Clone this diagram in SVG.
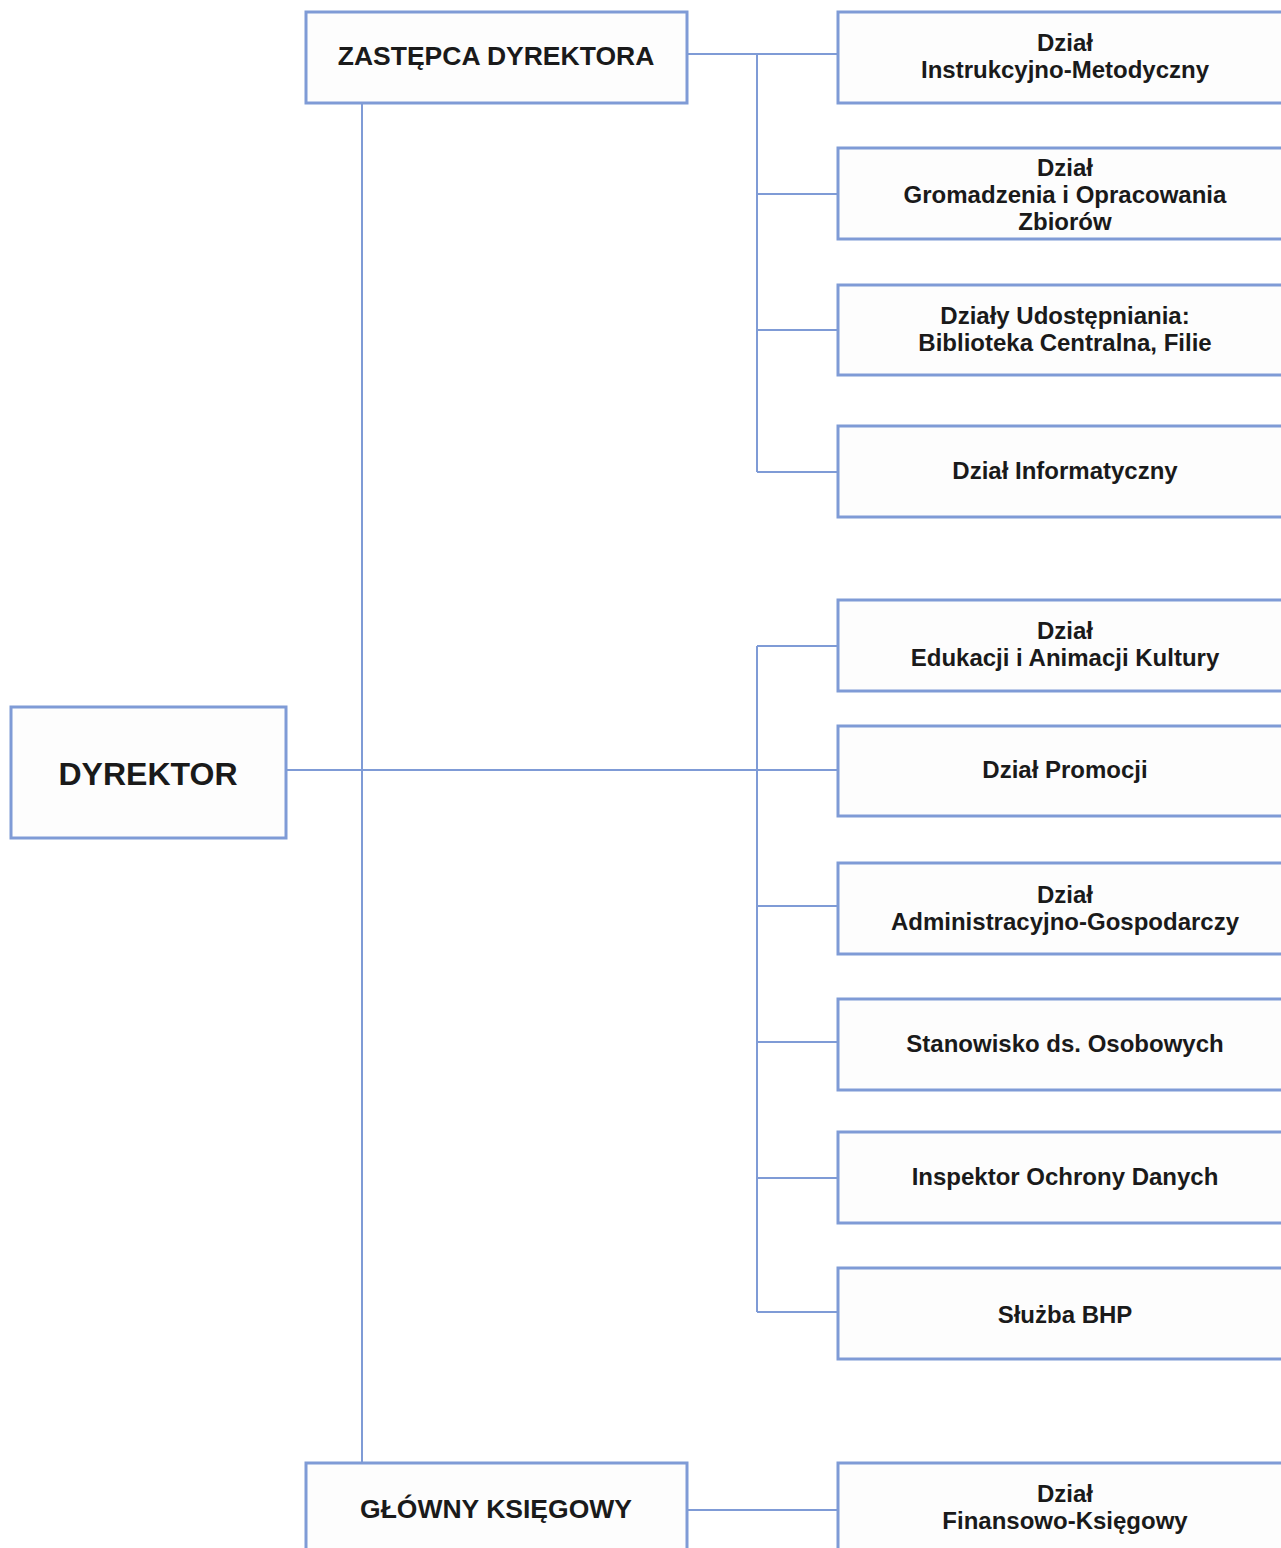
<svg xmlns="http://www.w3.org/2000/svg" width="1281" height="1548" viewBox="0 0 1281 1548">
<style>
.box{fill:#fdfdfd;stroke:#7f9bd6;stroke-width:3}
.ln{stroke:#7f9bd6;stroke-width:2;fill:none}
text{font-family:"Liberation Sans",Arial,sans-serif;font-weight:bold;fill:#1a1a1a;text-anchor:middle}
.t{font-size:24px}
.big{font-size:32px}
.mid{font-size:26.5px}
</style>
<rect width="1281" height="1548" fill="#ffffff"/>
<g id="connectors">
<path class="ln" d="M362 103V1463"/>
<path class="ln" d="M286 770H838"/>
<path class="ln" d="M687 54H838M757 54V472M757 194H838M757 330H838M757 472H838"/>
<path class="ln" d="M757 646V1312M757 646H838M757 906H838M757 1042H838M757 1178H838M757 1312H838"/>
<path class="ln" d="M687 1510H838"/>
</g>
<g id="dyrektor"><rect class="box" x="11" y="707" width="275" height="131"/><text class="big" x="148" y="785">DYREKTOR</text></g>
<g id="zastepca"><rect class="box" x="306" y="12" width="381" height="91"/><text class="mid" x="496" y="65">ZASTĘPCA DYREKTORA</text></g>
<g id="ksiegowy"><rect class="box" x="306" y="1463" width="381" height="100"/><text class="mid" x="496" y="1518">GŁÓWNY KSIĘGOWY</text></g>
<g id="n1"><rect class="box" x="838" y="12" width="460" height="91"/><text class="t" x="1065" y="51">Dział</text><text class="t" x="1065" y="78">Instrukcyjno-Metodyczny</text></g>
<g id="n2"><rect class="box" x="838" y="148" width="460" height="91"/><text class="t" x="1065" y="176">Dział</text><text class="t" x="1065" y="203">Gromadzenia i Opracowania</text><text class="t" x="1065" y="230">Zbiorów</text></g>
<g id="n3"><rect class="box" x="838" y="285" width="460" height="90"/><text class="t" x="1065" y="324">Działy Udostępniania:</text><text class="t" x="1065" y="351">Biblioteka Centralna, Filie</text></g>
<g id="n4"><rect class="box" x="838" y="426" width="460" height="91"/><text class="t" x="1065" y="479">Dział Informatyczny</text></g>
<g id="n5"><rect class="box" x="838" y="600" width="460" height="91"/><text class="t" x="1065" y="639">Dział</text><text class="t" x="1065" y="666">Edukacji i Animacji Kultury</text></g>
<g id="n6"><rect class="box" x="838" y="726" width="460" height="90"/><text class="t" x="1065" y="778">Dział Promocji</text></g>
<g id="n7"><rect class="box" x="838" y="863" width="460" height="91"/><text class="t" x="1065" y="903">Dział</text><text class="t" x="1065" y="930">Administracyjno-Gospodarczy</text></g>
<g id="n8"><rect class="box" x="838" y="999" width="460" height="91"/><text class="t" x="1065" y="1052">Stanowisko ds. Osobowych</text></g>
<g id="n9"><rect class="box" x="838" y="1132" width="460" height="91"/><text class="t" x="1065" y="1185">Inspektor Ochrony Danych</text></g>
<g id="n10"><rect class="box" x="838" y="1268" width="460" height="91"/><text class="t" x="1065" y="1323">Służba BHP</text></g>
<g id="n11"><rect class="box" x="838" y="1463" width="460" height="100"/><text class="t" x="1065" y="1502">Dział</text><text class="t" x="1065" y="1529">Finansowo-Księgowy</text></g>
</svg>
